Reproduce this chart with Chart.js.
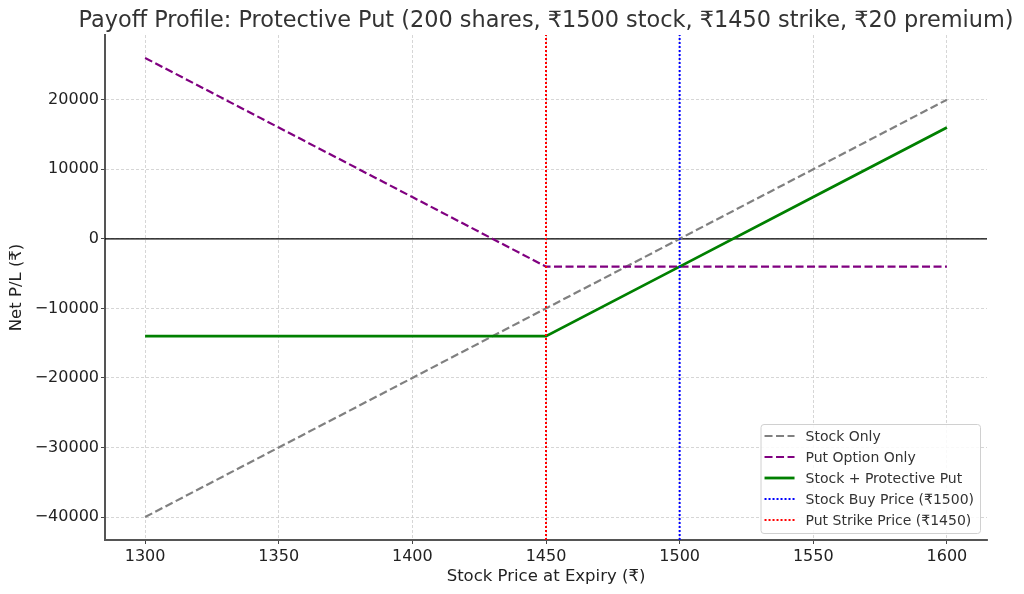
<!DOCTYPE html>
<html>
<head>
<meta charset="utf-8">
<script src="https://cdn.jsdelivr.net/npm/chart.js@4/dist/chart.umd.min.js"></script>
<style>
  html, body { margin: 0; padding: 0; background: #fff; }
  #wrap { width: 1024px; height: 594px; position: relative; }
</style>
</head>
<body>
<div id="wrap"><canvas id="chart" width="1024" height="594"></canvas></div>
<script>
// Protective put payoff: values
const prices = [1300, 1350, 1400, 1450, 1500, 1550, 1600];
const stockOnly = [-40000, -30000, -20000, -10000, 0, 10000, 20000];
const putOnly = [26000, 16000, 6000, -4000, -4000, -4000, -4000];
const protectivePut = [-14000, -14000, -14000, -14000, -4000, 6000, 16000];

const buyPrice = 1500;
const strikePrice = 1450;

const xTicks = [1300, 1350, 1400, 1450, 1500, 1550, 1600];
const yTicks = [-40000, -30000, -20000, -10000, 0, 10000, 20000];

const xMin = 1285, xMax = 1615;
const yMin = -43300, yMax = 29300;

const FONT = "'DejaVu Sans', sans-serif";

function pts(xs, ys) {
    return xs.map((x, i) => ({ x: x, y: ys[i] }));
}

// Zero line and title, drawn through the scales
const extrasPlugin = {
    id: 'extras',
    beforeDatasetsDraw(chart) {
        const { ctx, chartArea, scales } = chart;
        const y0 = scales.y.getPixelForValue(0);
        ctx.save();
        ctx.strokeStyle = '#000';
        ctx.lineWidth = 1.2;
        ctx.beginPath();
        ctx.moveTo(chartArea.left, y0);
        ctx.lineTo(chartArea.right, y0);
        ctx.stroke();
        ctx.restore();
    },
    afterDraw(chart) {
        const { ctx, chartArea } = chart;
        ctx.save();
        ctx.fillStyle = '#333';
        ctx.font = `22.4px ${FONT}`;
        ctx.textAlign = 'center';
        ctx.textBaseline = 'alphabetic';
        ctx.fillText('Payoff Profile: Protective Put (200 shares, ₹1500 stock, ₹1450 strike, ₹20 premium)',
            (chartArea.left + chartArea.right) / 2, 27);
        ctx.restore();
    }
};

// Matplotlib-like legend box in the lower right corner
const legendPlugin = {
    id: 'boxLegend',
    afterDraw(chart) {
        const { ctx, chartArea } = chart;
        const sets = chart.data.datasets;
        const rowH = 21;
        ctx.save();
        ctx.font = `14px ${FONT}`;
        let textW = 0;
        sets.forEach(ds => { textW = Math.max(textW, ctx.measureText(ds.label).width); });
        const boxW = 45 + textW + 6;
        const boxH = sets.length * rowH + 4;
        const bx = chartArea.right - 7 - boxW;
        const by = chartArea.bottom - 7 - boxH;

        ctx.fillStyle = 'rgba(255,255,255,0.85)';
        ctx.strokeStyle = '#d0d0d0';
        ctx.lineWidth = 1;
        ctx.beginPath();
        ctx.roundRect(bx + 0.5, by + 0.5, boxW, boxH, 3);
        ctx.fill();
        ctx.stroke();

        sets.forEach((ds, i) => {
            const cy = by + 12 + i * rowH;
            ctx.strokeStyle = ds.borderColor;
            ctx.lineWidth = ds.borderWidth;
            ctx.setLineDash(ds.borderDash || []);
            ctx.beginPath();
            ctx.moveTo(bx + 4, cy);
            ctx.lineTo(bx + 34, cy);
            ctx.stroke();
            ctx.setLineDash([]);
            ctx.fillStyle = '#333';
            ctx.textAlign = 'left';
            ctx.textBaseline = 'middle';
            ctx.fillText(ds.label, bx + 45, cy + 1);
        });
        ctx.restore();
    }
};

const lineDefaults = { pointRadius: 0, fill: false, tension: 0 };

new Chart(document.getElementById('chart'), {
    type: 'line',
    data: {
        datasets: [
            {
                ...lineDefaults,
                label: 'Stock Only',
                data: pts(prices, stockOnly),
                borderColor: '#808080',
                borderWidth: 2.2,
                borderDash: [8, 3.5],
                order: 5
            },
            {
                ...lineDefaults,
                label: 'Put Option Only',
                data: pts(prices, putOnly),
                borderColor: '#800080',
                borderWidth: 2.2,
                borderDash: [8, 3.5],
                order: 4
            },
            {
                ...lineDefaults,
                label: 'Stock + Protective Put',
                data: pts(prices, protectivePut),
                borderColor: '#008000',
                borderWidth: 2.8,
                order: 3
            },
            {
                ...lineDefaults,
                label: 'Stock Buy Price (₹1500)',
                data: [{ x: buyPrice, y: yMin }, { x: buyPrice, y: yMax }],
                borderColor: '#0000ff',
                borderWidth: 2,
                borderDash: [2, 2],
                order: 2
            },
            {
                ...lineDefaults,
                label: 'Put Strike Price (₹1450)',
                data: [{ x: strikePrice, y: yMin }, { x: strikePrice, y: yMax }],
                borderColor: '#ff0000',
                borderWidth: 2,
                borderDash: [2, 2],
                order: 1
            }
        ]
    },
    options: {
        responsive: false,
        animation: false,
        devicePixelRatio: 1,
        layout: { padding: { top: 35, right: 37, left: 0, bottom: 0 } },
        plugins: {
            legend: { display: false },
            title: { display: false },
            tooltip: { enabled: false }
        },
        scales: {
            x: {
                type: 'linear',
                min: xMin,
                max: xMax,
                afterFit(scale) { scale.height = 54; },
                afterBuildTicks(scale) { scale.ticks = xTicks.map(v => ({ value: v })); },
                grid: {
                    color: '#cccccc',
                    lineWidth: 0.8,
                    tickColor: '#444',
                    tickLength: 4,
                    tickWidth: 1
                },
                border: { display: true, color: '#555', width: 2, dash: [3, 2] },
                ticks: {
                    color: '#222',
                    padding: 3,
                    maxRotation: 0,
                    font: { family: FONT, size: 16 },
                    callback: v => String(v)
                },
                title: {
                    display: true,
                    text: 'Stock Price at Expiry (₹)',
                    color: '#222',
                    font: { family: FONT, size: 16.5 },
                    padding: { top: 0, bottom: 7 }
                }
            },
            y: {
                type: 'linear',
                min: yMin,
                max: yMax,
                afterFit(scale) { scale.width = 105; },
                afterBuildTicks(scale) { scale.ticks = yTicks.map(v => ({ value: v })); },
                grid: {
                    color: '#cccccc',
                    lineWidth: 0.8,
                    tickColor: '#444',
                    tickLength: 4,
                    tickWidth: 1
                },
                border: { display: true, color: '#555', width: 2, dash: [3, 2] },
                ticks: {
                    color: '#222',
                    padding: 2,
                    font: { family: FONT, size: 16 },
                    callback: v => (v < 0 ? '\u2212' + Math.abs(v) : String(v))
                },
                title: {
                    display: true,
                    text: 'Net P/L (₹)',
                    color: '#222',
                    font: { family: FONT, size: 16.5 },
                    padding: { top: 7, bottom: 0 }
                }
            }
        }
    },
    plugins: [extrasPlugin, legendPlugin]
});
</script>
</body>
</html>
